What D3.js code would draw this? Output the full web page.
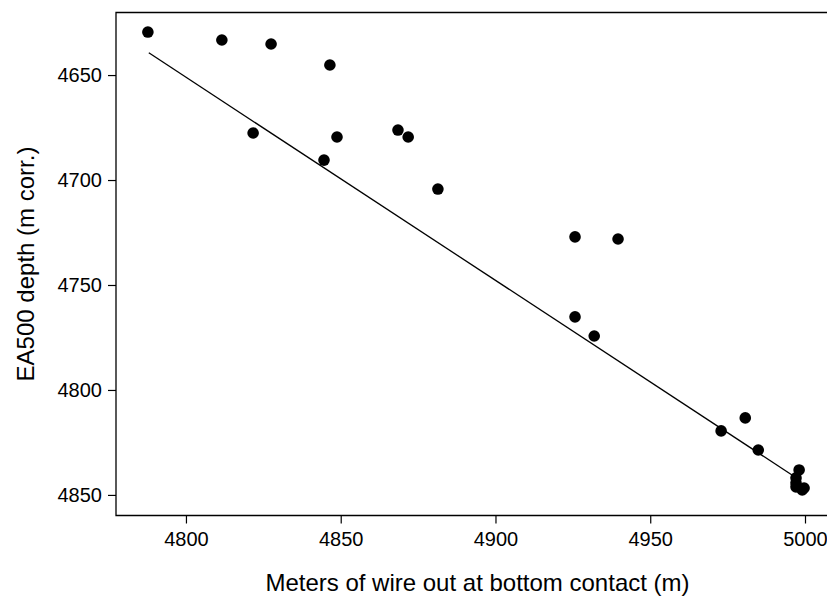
<!DOCTYPE html>
<html>
<head>
<meta charset="utf-8">
<script src="https://cdn.jsdelivr.net/npm/d3@7"></script>
<style>
  html, body { margin: 0; padding: 0; background: #fff; overflow: hidden; }
  svg { display: block; }
  text { font-family: "Liberation Sans", Arial, sans-serif; fill: #000; }
</style>
</head>
<body>
<script>
// ---- data ----
const wireOut = [4787.7, 4811.6, 4827.5, 4846.5, 4821.7, 4848.8, 4844.6, 4868.5, 4871.8, 4881.4,
                 4925.7, 4939.6, 4925.7, 4931.9, 4972.9, 4980.7, 4984.9,
                 4998.1, 4997.1, 4997.1, 4997.1, 4999.7, 4999.1];
const depth   = [4629.5, 4633.3, 4635.2, 4645.2, 4677.6, 4679.5, 4690.5, 4676.2, 4679.5, 4704.3,
                 4727.1, 4728.1, 4765.2, 4774.3, 4819.5, 4813.3, 4828.6,
                 4838.1, 4841.9, 4844.3, 4846.2, 4846.7, 4847.6];
const fitX = [4788.0, 4995.8];
const fitY = [4639.4, 4840.5];
const xTicks = [4800, 4850, 4900, 4950, 5000];
const yTicks = [4650, 4700, 4750, 4800, 4850];
const xTitle = "Meters of wire out at bottom contact (m)";
const yTitle = "EA500 depth (m corr.)";

// ---- layout ----
const W = 827, H = 598;
const pL = 116, pR = 831, pT = 12.5, pB = 515.5;

const svg = d3.select("body").append("svg").attr("width", W).attr("height", H);

const x = d3.scaleLinear().domain([4777.4, 5008.4]).range([pL, pR]);
const y = d3.scaleLinear().domain([4620.2, 4859.8]).range([pT, pB]);

// box (right side falls outside the picture)
svg.append("path")
  .attr("d", `M${W + 10},${pT}H${pL}V${pB}H${W + 10}`)
  .attr("fill", "none").attr("stroke", "#000").attr("stroke-width", 1.3);

// axes
const xAxis = svg.append("g").attr("transform", `translate(0,${pB})`)
  .call(d3.axisBottom(x).tickValues(xTicks).tickSize(8).tickPadding(8).tickFormat(d3.format("d")));
const yAxis = svg.append("g").attr("transform", `translate(${pL},0)`)
  .call(d3.axisLeft(y).tickValues(yTicks).tickSize(8).tickPadding(6).tickFormat(d3.format("d")));
[xAxis, yAxis].forEach(g => {
  g.select(".domain").remove();
  g.selectAll(".tick line").attr("stroke", "#000").attr("stroke-width", 1.2);
  g.selectAll(".tick text").style("font-size", "20px")
    .style("font-family", "'Liberation Sans', Arial, sans-serif");
});

// fit line
svg.append("line")
  .attr("x1", x(fitX[0])).attr("y1", y(fitY[0]))
  .attr("x2", x(fitX[1])).attr("y2", y(fitY[1]))
  .attr("stroke", "#000").attr("stroke-width", 1.3);

// points
svg.append("g").selectAll("circle")
  .data(wireOut.map((v, i) => [v, depth[i]]))
  .join("circle")
  .attr("cx", d => x(d[0])).attr("cy", d => y(d[1]))
  .attr("r", 5.8).attr("fill", "#000");

// titles
svg.append("text")
  .attr("x", (x(4800) + x(5000)) / 2 - 18).attr("y", 591)
  .attr("text-anchor", "middle")
  .style("font-size", "24px")
  .text(xTitle);

svg.append("text")
  .attr("transform", `translate(34,${(pT + pB) / 2}) rotate(-90)`)
  .attr("text-anchor", "middle")
  .style("font-size", "24px")
  .text(yTitle);
</script>
</body>
</html>
